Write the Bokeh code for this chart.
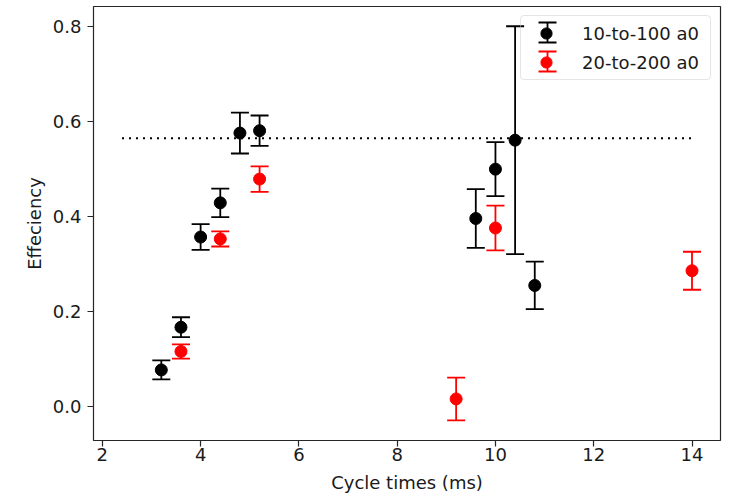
from bokeh.plotting import figure
from bokeh.models import (ColumnDataSource, Whisker, TeeHead, Arrow, Legend,
                          LegendItem, FixedTicker, Range1d)
from bokeh.embed import file_html
from bokeh.resources import INLINE

# ---- data ----
x_black = [3.2, 3.6, 4.0, 4.4, 4.8, 5.2, 9.6, 10.0, 10.4, 10.8]
y_black = [0.077, 0.167, 0.357, 0.429, 0.576, 0.581, 0.396, 0.500, 0.561, 0.255]
err_black = [0.020, 0.021, 0.027, 0.030, 0.043, 0.032, 0.062, 0.057, 0.240, 0.050]

x_red = [3.6, 4.4, 5.2, 9.2, 10.0, 14.0]
y_red = [0.116, 0.353, 0.479, 0.016, 0.376, 0.286]
err_red = [0.015, 0.016, 0.027, 0.045, 0.047, 0.040]

ref_x = [2.4, 14.0]
ref_y = [0.565, 0.565]

x_ticks = [2, 4, 6, 8, 10, 12, 14]
y_ticks = [0.0, 0.2, 0.4, 0.6, 0.8]
y_tick_labels = ["0.0", "0.2", "0.4", "0.6", "0.8"]
series_labels = ["10-to-100 a0", "20-to-200 a0"]
x_label = "Cycle times (ms)"
y_label = "Effeciency"

FONT = "DejaVu Sans"
TXT = "#1a1a1a"
AX = "#262626"

p = figure(frame_width=627, frame_height=434,
           min_border_left=93, min_border_right=10,
           min_border_top=6, min_border_bottom=63,
           x_range=Range1d(1.82, 14.58), y_range=Range1d(-0.0716, 0.8426),
           output_backend="svg", toolbar_location=None,
           x_axis_label=x_label, y_axis_label=y_label)

p.grid.visible = False
p.outline_line_color = AX
p.outline_line_width = 1.2
p.outline_line_alpha = 1.0
p.background_fill_color = "white"
p.border_fill_color = "white"

p.xaxis.ticker = FixedTicker(ticks=x_ticks)
p.yaxis.ticker = FixedTicker(ticks=y_ticks)
p.yaxis.major_label_overrides = {t: l for t, l in zip(y_ticks, y_tick_labels)}

for ax in (p.xaxis[0], p.yaxis[0]):
    ax.axis_line_color = None
    ax.major_tick_line_color = AX
    ax.major_tick_line_width = 1.2
    ax.major_tick_out = 6
    ax.major_tick_in = 0
    ax.minor_tick_line_color = None
    ax.major_label_text_font = FONT
    ax.major_label_text_font_size = "18px"
    ax.major_label_text_color = TXT
    ax.axis_label_text_font = FONT
    ax.axis_label_text_font_size = "18px"
    ax.axis_label_text_font_style = "normal"
    ax.axis_label_text_color = TXT

p.xaxis.major_label_standoff = 1
p.xaxis.axis_label_standoff = 8
p.yaxis.major_label_standoff = 6
p.yaxis.axis_label_standoff = 5

# dotted reference line
p.line(ref_x, ref_y, line_color="black", line_width=2, line_dash="2 5")


def add_series(xs, ys, errs, color):
    src = ColumnDataSource(dict(
        x=xs, y=ys,
        lower=[y - e for y, e in zip(ys, errs)],
        upper=[y + e for y, e in zip(ys, errs)],
    ))
    w = Whisker(source=src, base="x", lower="lower", upper="upper",
                dimension="height", line_color=color, line_width=1.8,
                upper_head=TeeHead(size=18, line_color=color, line_width=1.8),
                lower_head=TeeHead(size=18, line_color=color, line_width=1.8),
                level="underlay")
    p.add_layout(w)
    r = p.scatter("x", "y", source=src, size=12, marker="circle",
                  fill_color=color, line_color=color)
    return r


r_black = add_series(x_black, y_black, err_black, "black")
r_red = add_series(x_red, y_red, err_red, "#ff0000")

legend = Legend(items=[LegendItem(label=series_labels[0], renderers=[r_black]),
                       LegendItem(label=series_labels[1], renderers=[r_red])],
                location="top_right", margin=9, padding=3, spacing=1,
                glyph_width=44, glyph_height=28, label_height=28,
                label_width=125, label_standoff=14,
                label_text_font=FONT, label_text_font_size="18px",
                label_text_color=TXT,
                border_line_color="#cccccc", border_line_width=1,
                border_radius=4,
                background_fill_alpha=0.0)
p.add_layout(legend)

# error-bar symbol in the legend (screen units, relative to the frame)
for yc, color in [(408, "black"), (379, "#ff0000")]:
    p.add_layout(Arrow(x_start=454, y_start=yc - 10, x_end=454, y_end=yc + 10,
                       start_units="screen", end_units="screen",
                       line_color=color, line_width=1.8, level="overlay",
                       start=TeeHead(size=18, line_color=color, line_width=1.8),
                       end=TeeHead(size=18, line_color=color, line_width=1.8)))

open("out.html", "w").write(file_html(p, INLINE))
